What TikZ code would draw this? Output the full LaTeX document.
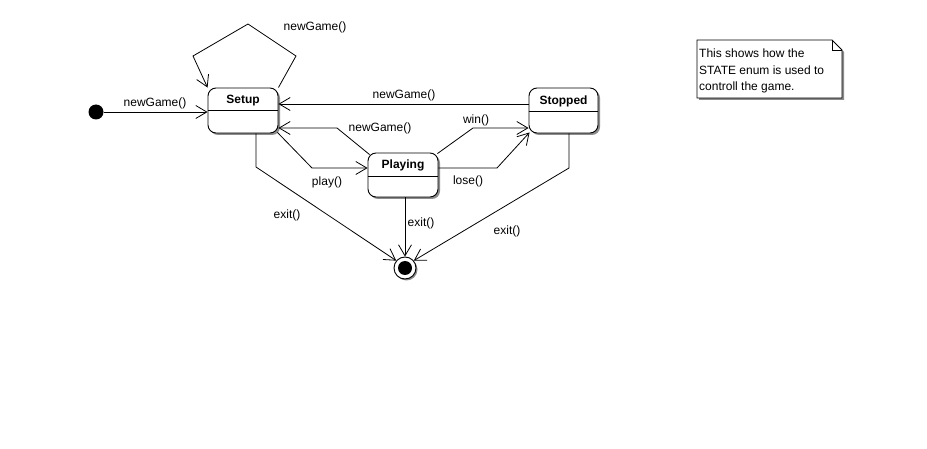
\documentclass[tikz,border=0pt]{standalone}
\usepackage{fontspec}
\setmainfont{Liberation Sans}
\usetikzlibrary{arrows.meta,shadows,calc}
\begin{document}
\begin{tikzpicture}[x=1pt,y=-1pt,
  every node/.style={font=\fontsize{12}{14}\selectfont},
  statebox/.style={draw, line width=0.9pt, fill=white, rounded corners=8pt, inner sep=0pt,
     drop shadow={shadow xshift=2pt, shadow yshift=-2pt, fill=black!45, opacity=1}},
  title/.style={font=\fontsize{12}{14}\selectfont\bfseries, inner sep=0pt},
  lbl/.style={inner sep=0pt},
  conn/.style={line width=0.8pt, -{Straight Barb[length=11pt,width=13pt,line width=0.8pt]}}
]
\useasboundingbox[fill=white] (0,0) rectangle (927,449);

% states
\node[statebox, minimum width=70pt, minimum height=45pt] (setup) at (243,110.5) {};
\node[title] (setupT) at (243,101) {Setup};
\draw[line width=0.9pt] (setup.west |- 0,110.5) -- (setup.east |- 0,110.5);

\node[statebox, minimum width=69pt, minimum height=45pt] (stopped) at (563.5,110.5) {};
\node[title] (stoppedT) at (563.5,101) {Stopped};
\draw[line width=0.9pt] (stopped.west |- 0,111) -- (stopped.east |- 0,111);

\node[statebox, minimum width=70pt, minimum height=44pt] (playing) at (403,175) {};
\node[title] (playingT) at (403,165.5) {Playing};
\draw[line width=0.9pt] (playing.west |- 0,176) -- (playing.east |- 0,176);

% initial and final
\node[circle, fill=black, minimum size=15pt, inner sep=0pt] (init) at (96,112) {};
\node[circle, draw, line width=0.9pt, fill=white, minimum size=22pt, inner sep=0pt,
      drop shadow={shadow xshift=1.5pt, shadow yshift=-1.5pt, fill=black!45, opacity=1}] (final) at (405,268) {};
\node[circle, fill=black, minimum size=14pt, inner sep=0pt] (finalIn) at (final) {};

% transitions
\draw[conn] (init) -- (init -| setup.west);
\node[lbl] (l1) at (155,103) {newGame()};

\draw[conn] (setup.north east) -- (296,56) -- (248,24) -- (193,56) -- (setup.north west);
\node[lbl] (l2) at (315,27) {newGame()};

\draw[conn] ([yshift=6.5pt]stopped.west) -- ([yshift=6.5pt]setup.east);
\node[lbl] (l3) at (404,95) {newGame()};

\draw[conn] ([xshift=2pt,yshift=-2pt]playing.north west) -- (337,128) -- ([yshift=-17.5pt]setup.east);
\node[lbl] (l4) at (380,128) {newGame()};

\draw[conn] ([xshift=-1pt,yshift=1pt]setup.south east) -- (312,168) -- ([yshift=7pt]playing.west);
\node[lbl] (l5) at (327,182) {play()};

\draw[conn] ([xshift=-1pt,yshift=-1pt]playing.north east) -- (473,128) -- ([yshift=-17.5pt]stopped.west);
\node[lbl] (l6) at (476,120) {win()};

\draw[conn] ([yshift=7pt]playing.east) -- (497,168) -- ([xshift=1pt,yshift=1pt]stopped.south west);
\node[lbl] (l7) at (468,181) {lose()};

\draw[conn] (playing.south -| final) -- (final.north);
\node[lbl] (l8) at (421,223) {exit()};

\draw[conn] (setup.south -| 256,0) -- (256,167) -- (final.140);
\node[lbl] (l9) at (287,215) {exit()};

\draw[conn] (stopped.south -| 569,0) -- (569,168) -- (final.40);
\node[lbl] (l10) at (507,231) {exit()};

% note
\fill[black!45] (699,42) -- (834,42) -- (844,52) -- (844,100) -- (699,100) -- cycle;
\draw[line width=0.9pt, fill=white] (697,40) -- (832,40) -- (842,50) -- (842,98) -- (697,98) -- cycle;
\draw[line width=0.9pt] (832,40) -- (832,50) -- (842,50);
\node[lbl, anchor=north west, align=left, font=\fontsize{12}{16.5}\selectfont] (note) at (699,49)
  {This shows how the\\STATE enum is used to\\controll the game.};
\end{tikzpicture}
\end{document}
